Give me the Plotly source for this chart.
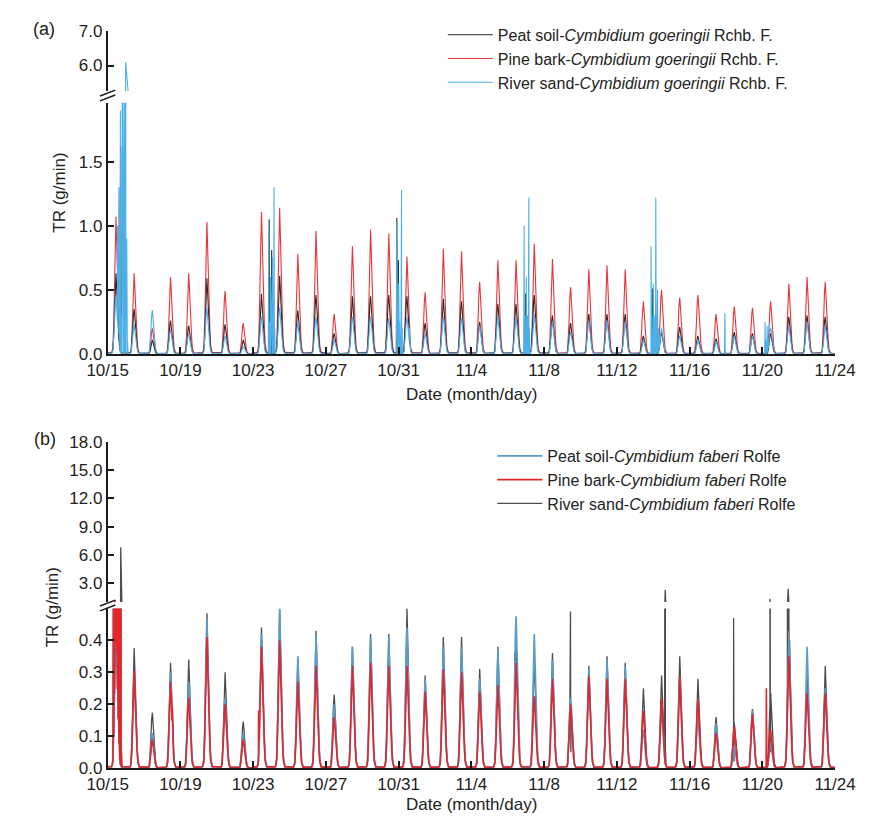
import plotly.graph_objects as go

# ---------------------------------------------------------------------------
# Data: daily transpiration-rate peaks (g/min), 10/15 .. 11/23 (40 days)
# ---------------------------------------------------------------------------
DAY_TICKS = [0, 4, 8, 12, 16, 20, 24, 28, 32, 36, 40]
TICK_LABELS = ["10/15", "10/19", "10/23", "10/27", "10/31", "11/4",
               "11/8", "11/12", "11/16", "11/20", "11/24"]

# relative diurnal course of TR, hour 0 .. 23
DIURNAL = [0.01, 0.01, 0.01, 0.01, 0.01, 0.01, 0.02, 0.06, 0.22, 0.52, 0.86, 1.0,
           0.8, 0.55, 0.34, 0.17, 0.06, 0.02, 0.01, 0.01, 0.01, 0.01, 0.01, 0.01]

# (a) Cymbidium goeringii
A_PEAT = [0.63, 0.35, 0.11, 0.26, 0.22, 0.59, 0.23, 0.11, 0.47, 0.61,
          0.34, 0.46, 0.16, 0.45, 0.45, 0.46, 0.45, 0.24, 0.43, 0.41,
          0.25, 0.39, 0.39, 0.46, 0.30, 0.24, 0.31, 0.31, 0.31, 0.14,
          0.17, 0.21, 0.14, 0.12, 0.17, 0.16, 0.16, 0.29, 0.30, 0.29]
A_PINE = [1.07, 0.63, 0.20, 0.60, 0.63, 1.03, 0.49, 0.24, 1.11, 1.14,
          0.78, 0.96, 0.31, 0.84, 0.97, 0.94, 0.76, 0.48, 0.82, 0.80,
          0.56, 0.73, 0.73, 0.86, 0.74, 0.52, 0.66, 0.69, 0.66, 0.41,
          0.50, 0.44, 0.46, 0.31, 0.37, 0.36, 0.41, 0.55, 0.60, 0.56]
A_SAND = [0.45, 0.23, 0.34, 0.19, 0.16, 0.36, 0.14, 0.06, 0.29, 0.36,
          0.24, 0.29, 0.11, 0.29, 0.29, 0.28, 0.29, 0.16, 0.29, 0.28,
          0.22, 0.29, 0.29, 0.31, 0.25, 0.17, 0.26, 0.26, 0.25, 0.11,
          0.20, 0.14, 0.11, 0.10, 0.14, 0.14, 0.20, 0.22, 0.25, 0.22]

# irregular readings (day, g/min)
A_PEAT_EXTRA = [(0.72, 1.62), (0.74, 0.10), (8.88, 1.05), (8.90, 0.20), (9.02, 0.81),
                (9.04, 0.15), (15.90, 1.06), (15.92, 0.25), (15.99, 0.73), (16.01, 0.2),
                (22.98, 0.47), (23.0, 0.1), (29.97, 0.51), (29.99, 0.1)]
A_PINE_EXTRA = [(3.56, 0.19), (4.55, 0.40), (7.56, 0.14), (24.38, 0.47), (29.38, 0.26)]
A_SAND_EXTRA = [(0.55, 1.00), (0.58, 0.20), (0.62, 1.30), (0.66, 0.30), (0.70, 1.90),
                (0.74, 0.30), (0.80, 2.40), (0.84, 0.50), (0.90, 2.40), (0.94, 0.40),
                (0.99, 6.10), (1.01, 0.30), (1.05, 0.90), (1.09, 0.10),
                (8.86, 0.99), (8.90, 0.25), (8.96, 0.60), (9.00, 0.20), (9.06, 0.75),
                (9.10, 0.25), (9.15, 1.30), (9.19, 0.20),
                (15.90, 1.03), (15.94, 0.30), (16.00, 0.55), (16.05, 0.25), (16.16, 1.28),
                (16.20, 0.20), (16.60, 0.20), (16.66, 0.05),
                (22.90, 1.00), (22.94, 0.30), (23.02, 0.60), (23.08, 0.30), (23.16, 1.22),
                (23.20, 0.20),
                (29.88, 0.84), (29.92, 0.30), (30.00, 0.55), (30.06, 0.30), (30.14, 1.22),
                (30.18, 0.30), (30.24, 0.50), (30.30, 0.20),
                (33.94, 0.32), (33.96, 0.02),
                (36.15, 0.25), (36.20, 0.10), (36.26, 0.22), (36.32, 0.12), (36.38, 0.24)]

# (b) Cymbidium faberi
B_PEAT = [0.45, 0.30, 0.11, 0.30, 0.27, 0.47, 0.22, 0.11, 0.42, 0.50,
          0.35, 0.42, 0.20, 0.38, 0.41, 0.41, 0.44, 0.28, 0.38, 0.38,
          0.28, 0.37, 0.475, 0.42, 0.34, 0.22, 0.31, 0.34, 0.32, 0.12,
          0.20, 0.29, 0.16, 0.14, 0.07, 0.18, 0.08, 0.40, 0.38, 0.25]
B_PINE = [0.45, 0.305, 0.09, 0.27, 0.22, 0.41, 0.20, 0.09, 0.38, 0.40,
          0.27, 0.32, 0.16, 0.32, 0.33, 0.32, 0.32, 0.24, 0.31, 0.30,
          0.24, 0.26, 0.33, 0.225, 0.28, 0.20, 0.29, 0.28, 0.28, 0.18,
          0.22, 0.29, 0.215, 0.11, 0.13, 0.17, 0.12, 0.35, 0.235, 0.235]
B_SAND = [0.45, 0.376, 0.174, 0.33, 0.34, 0.485, 0.30, 0.146, 0.44, 0.495,
          0.34, 0.43, 0.23, 0.38, 0.42, 0.42, 0.50, 0.29, 0.41, 0.41,
          0.31, 0.38, 0.39, 0.34, 0.36, 0.23, 0.32, 0.35, 0.33, 0.25,
          0.29, 0.35, 0.28, 0.16, 0.14, 0.185, 0.235, 0.50, 0.31, 0.32]

B_PEAT_EXTRA = [(0.33, 0.70), (0.38, 0.30), (0.44, 0.90), (0.50, 0.40), (0.56, 0.80),
                (0.62, 0.35), (0.68, 0.70), (0.74, 0.05), (22.38, 0.36), (29.5, 0.12)]
B_PINE_EXTRA = [(0.30, 0.20), (0.33, 0.90), (0.36, 0.40), (0.40, 1.20), (0.44, 0.50),
                (0.48, 0.95), (0.52, 0.60), (0.56, 0.90), (0.60, 0.50), (0.64, 0.90),
                (0.68, 0.30), (0.72, 0.80), (0.76, 0.05),
                (1.56, 0.19), (3.56, 0.19), (8.30, 0.18), (22.38, 0.20), (36.22, 0.25),
                (36.24, 0.02)]
B_SAND_EXTRA = [(0.50, 0.90), (0.72, 6.80), (0.74, 0.20), (22.38, 0.36), (23.38, 0.23),
                (25.45, 0.49), (25.47, 0.05), (30.66, 2.30), (30.68, 0.05),
                (31.38, 0.17), (34.42, 0.47), (34.44, 0.02), (36.42, 1.35), (36.44, 0.05),
                (37.38, 0.90), (37.42, 2.40), (37.45, 1.20), (37.48, 0.30)]

LABELS_A = ["Peat soil-<i>Cymbidium goeringii</i> Rchb. F.",
            "Pine bark-<i>Cymbidium goeringii</i> Rchb. F.",
            "River sand-<i>Cymbidium goeringii</i> Rchb. F."]
LABELS_B = ["Peat soil-<i>Cymbidium faberi</i> Rolfe",
            "Pine bark-<i>Cymbidium faberi</i> Rolfe",
            "River sand-<i>Cymbidium faberi</i> Rolfe"]

W, H = 878, 826


def px(x):
    return x / W


def py(y):
    return 1 - y / H


def series(peaks, extra):
    """Hourly course from the daily peaks plus the irregular readings."""
    pts = []
    for d, p in enumerate(peaks):
        for h, f in enumerate(DIURNAL):
            pts.append((d + h / 24, p * f))
    pts.extend(extra)
    pts.append((40.0, 0.0))
    pts.sort()
    return [t for t, _ in pts], [v for _, v in pts]


fig = go.Figure()

# ---- panel (a) ----
panel_a = [  # (label, peaks, extra, colour, width, legend rank)
    (LABELS_A[1], A_PINE, A_PINE_EXTRA, "#e8343b", 1.1, 2),
    (LABELS_A[0], A_PEAT, A_PEAT_EXTRA, "#2a2a2a", 1.1, 1),
    (LABELS_A[2], A_SAND, A_SAND_EXTRA, "#4bb0e8", 1.1, 3),
]
for name, peaks, extra, color, width, rank in panel_a:
    t, v = series(peaks, extra)
    for yax, show in (("y", True), ("y2", False)):
        fig.add_trace(go.Scatter(x=t, y=v, mode="lines", name=name, xaxis="x", yaxis=yax,
                                 line=dict(color=color, width=width), showlegend=show,
                                 legend="legend", legendrank=rank, hoverinfo="skip"))

# ---- panel (b) ----
panel_b = [
    (LABELS_B[2], B_SAND, B_SAND_EXTRA, "#4d4d4d", 1.3, 3),
    (LABELS_B[0], B_PEAT, B_PEAT_EXTRA, "#5a9ccb", 1.7, 1),
    (LABELS_B[1], B_PINE, B_PINE_EXTRA, "#e3262c", 1.6, 2),
]
for name, peaks, extra, color, width, rank in panel_b:
    t, v = series(peaks, extra)
    for yax, show in (("y3", True), ("y4", False)):
        fig.add_trace(go.Scatter(x=t, y=v, mode="lines", name=name, xaxis="x2", yaxis=yax,
                                 line=dict(color=color, width=width), showlegend=show,
                                 legend="legend2", legendrank=rank, hoverinfo="skip"))

FONT = "Liberation Sans, Arial, sans-serif"
XDOM = [px(91), px(855)]

axis_common = dict(showline=True, linecolor="#1a1a1a", linewidth=1.6, ticks="inside",
                   ticklen=7, tickwidth=1.6, tickcolor="#1a1a1a", showgrid=False,
                   zeroline=False, mirror=False)
xcommon = dict(axis_common, domain=XDOM, range=[0, 40], tickmode="array",
               tickvals=DAY_TICKS, ticktext=TICK_LABELS,
               tickfont=dict(size=17, color="#222", family=FONT))
ycommon = dict(axis_common, tickmode="array", tickfont=dict(size=17, color="#222", family=FONT))

fig.update_layout(
    width=W, height=H, margin=dict(l=0, r=0, t=0, b=0),
    paper_bgcolor="white", plot_bgcolor="white",
    font=dict(family=FONT, color="#222"),
    xaxis=dict(xcommon, anchor="y"),
    xaxis2=dict(xcommon, anchor="y3"),
    yaxis=dict(ycommon, anchor="x", domain=[py(353), py(96)], range=[0, 1.96],
               tickvals=[0, 0.5, 1.0, 1.5], ticktext=["0.0", "0.5", "1.0", "1.5"]),
    yaxis2=dict(ycommon, anchor="x", domain=[py(84), py(23)], range=[5.25, 7.0],
                tickvals=[6, 7], ticktext=["6.0", "7.0"]),
    yaxis3=dict(ycommon, anchor="x2", domain=[py(777), py(613.5)], range=[0, 0.5],
                tickvals=[0, 0.1, 0.2, 0.3, 0.4], ticktext=["0.0", "0.1", "0.2", "0.3", "0.4"]),
    yaxis4=dict(ycommon, anchor="x2", domain=[py(607), py(443)], range=[1.0, 18.0],
                tickvals=[3, 6, 9, 12, 15, 18],
                ticktext=["3.0", "6.0", "9.0", "12.0", "15.0", "18.0"]),
    legend=dict(x=px(443), y=py(9), xanchor="left", yanchor="top", bgcolor="rgba(0,0,0,0)",
                font=dict(size=16, color="#222", family=FONT), tracegroupgap=0,
                itemwidth=45),
    legend2=dict(x=px(495), y=py(440), xanchor="left", yanchor="top", bgcolor="rgba(0,0,0,0)",
                 font=dict(size=16, color="#222", family=FONT), tracegroupgap=0,
                 itemwidth=45),
)

# axis-break marks
shapes = []
for y0 in (89, 84):
    shapes.append(dict(type="line", xref="paper", yref="paper", x0=px(83), y0=py(y0 + 5),
                       x1=px(99), y1=py(y0 - 1), line=dict(color="#1a1a1a", width=1.5)))
for y0 in (611, 606):
    shapes.append(dict(type="line", xref="paper", yref="paper", x0=px(83), y0=py(y0 + 5),
                       x1=px(99), y1=py(y0 - 1), line=dict(color="#1a1a1a", width=1.5)))
fig.update_layout(shapes=shapes)

ann = [
    dict(text="(a)", x=px(24), y=py(20), size=18),
    dict(text="(b)", x=px(25), y=py(440), size=18),
    dict(text="TR (g/min)", x=px(41), y=py(188), textangle=-90, size=17),
    dict(text="TR (g/min)", x=px(34), y=py(612), textangle=-90, size=17),
    dict(text="Date (month/day)", x=px(473), y=py(395), size=17),
    dict(text="Date (month/day)", x=px(473), y=py(814), size=17),
]
annotations = []
for a in ann:
    size = a.pop("size")
    annotations.append(dict(a, xref="paper", yref="paper", showarrow=False,
                            xanchor="center", yanchor="middle",
                            font=dict(size=size, color="#222", family=FONT)))
fig.update_layout(annotations=annotations)

fig.write_html("out.html")
